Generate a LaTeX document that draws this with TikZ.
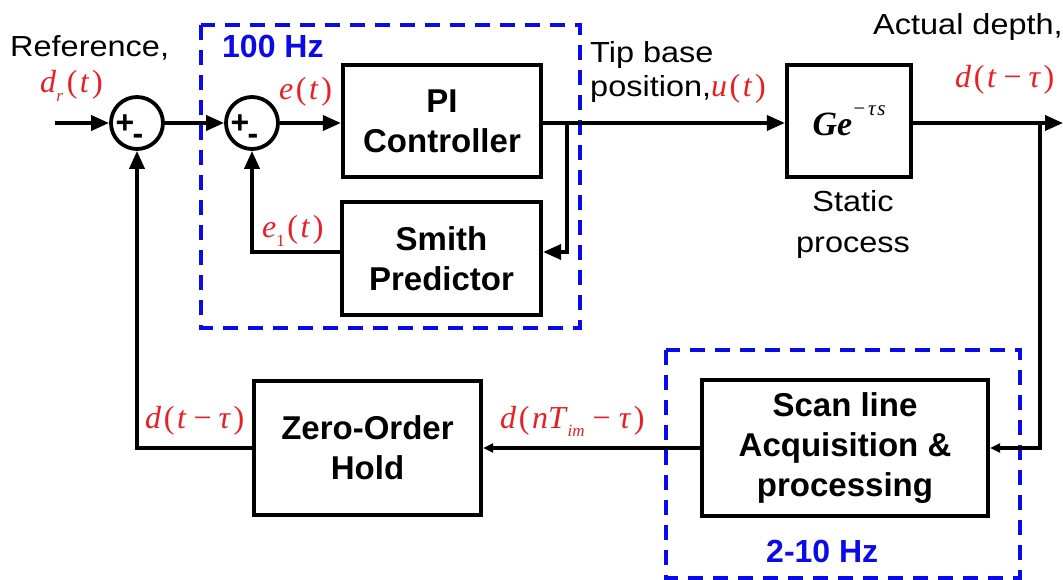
\documentclass[tikz,border=0pt]{standalone}
\usepackage{fontspec}
\setmainfont{Liberation Sans}
\newfontfamily\lblfont{Liberation Sans}[FakeStretch=1.12]
\newfontfamily\tmfont{Liberation Serif}
\usetikzlibrary{arrows.meta}
\definecolor{myred}{RGB}{235,30,35}
\definecolor{myblue}{RGB}{10,10,235}
\newcommand{\rsub}[1]{\raisebox{-0.28em}{\fontsize{17}{17}\selectfont #1}}
\newcommand{\ms}{\kern0.08em}
\tikzset{
  blk/.style={draw, line width=4.2pt, inner sep=0pt, align=center, font=\bfseries\fontsize{33}{40}\selectfont},
  sumj/.style={draw, circle, line width=3.8pt, minimum size=52pt, inner sep=0pt},
  conn/.style={line width=3.6pt, -{Triangle[length=18pt,width=15pt]}},
  connsm/.style={line width=3.6pt, -{Triangle[length=10pt,width=9pt]}},
  redm/.style={font=\tmfont\fontsize{32}{36}\selectfont, text=myred, inner sep=0pt, anchor=base west},
  lbl/.style={font=\lblfont\fontsize{29}{34}\selectfont, inner sep=0pt},
  hz/.style={font=\bfseries\fontsize{32}{36}\selectfont, text=myblue, inner sep=0pt, anchor=base west},
  dbox/.style={draw=myblue, line width=3.8pt, dash pattern=on 15pt off 10pt},
  pm/.style={font=\bfseries\fontsize{32}{32}\selectfont, inner sep=0pt}
}
\begin{document}
\begin{tikzpicture}[x=1pt,y=-1pt]
\fill[white] (0,0) rectangle (1063,580);
\useasboundingbox (0,0) rectangle (1063,580);

% dashed regions
\draw[dbox] (201,25) rectangle (580,328);
\draw[dbox] (666,350) rectangle (1020,578);
\node[hz] (hz100) at (222,58) {100 Hz};
\node[hz] (hz210) at (766,562) {2-10 Hz};

% summing junctions
\node[sumj] (sum1) at (137,123) {};
\node[sumj] (sum2) at (252,123) {};
\node[pm] (p1) at (125,124) {+};
\node[pm] (m1) at (138,139) {-};
\node[pm] (p2) at (240,124) {+};
\node[pm] (m2) at (253,139) {-};

% blocks
\node[blk, minimum width=198pt, minimum height=112pt] (pi) at (442,121) {PI\\Controller};
\node[blk, minimum width=199pt, minimum height=113pt] (smith) at (441.5,258.5) {Smith\\Predictor};
\node[blk, minimum width=124pt, minimum height=112pt] (ge) at (849,121)
  {{\tmfont\bfseries\itshape\fontsize{34}{34}\selectfont Ge}\raisebox{0.6em}{\tmfont\mdseries\itshape\fontsize{21}{21}\selectfont −\kern0.08em τ\kern0.08em s}};
\node[blk, minimum width=286pt, minimum height=136pt] (scan) at (845,448) {Scan line\\Acquisition \&\\processing};
\node[blk, minimum width=227pt, minimum height=134pt] (zoh) at (367.5,448) {Zero-Order\\Hold};

% coordinates
\coordinate (in) at (55,123);
\coordinate (b1) at (567,123);
\coordinate (b1d) at (567,252);
\coordinate (b2) at (1040,123);
\coordinate (out) at (1063,123);

% connectors
\draw[conn] (in) -- (sum1);
\draw[conn] (sum1) -- (sum2);
\draw[conn] (sum2) -- (sum2 -| pi.west);
\draw[conn] (pi.east |- sum2) -- (ge.west |- sum2);
\draw[conn] (b1) -- (b1d) -- (b1d -| smith.east);
\draw[conn] (smith.west |- b1d) -| (sum2.south);
\draw[conn] (ge.east |- sum2) -- (out);
\draw[connsm] (b2) |- (scan.east);
\draw[connsm] (scan.west) -- (zoh.east);
\draw[conn] (zoh.west) -| (sum1.south);

% black labels
\node[lbl, anchor=base west] (ref) at (10,57) {Reference,};
\node[lbl, anchor=base west] (tip1) at (590,63) {Tip base};
\node[lbl, anchor=base west] (tip2) at (590,97) {position,{\tmfont\fontsize{32}{36}\selectfont\color{myred}\textit{u}\ms(\ms\textit{t}\ms)}};
\node[lbl, anchor=base west] (act) at (873,35) {Actual depth,};
\node[lbl, anchor=base] (st1) at (853,212) {Static};
\node[lbl, anchor=base] (st2) at (853,252) {process};

% red math labels
\node[redm] (dr) at (40,93) {\textit{d}\rsub{\textit{r}}\kern0.12em(\ms\textit{t}\ms)};
\node[redm] (et) at (279,100) {\textit{e}\ms(\ms\textit{t}\ms)};
\node[redm] (e1) at (262,238) {\textit{e}\rsub{1}\ms(\ms\textit{t}\ms)};
\node[redm] (dout) at (955,88) {\textit{d}\ms(\ms\textit{t}\kern0.22em−\kern0.22em\textit{τ}\ms)};
\node[redm] (dfb) at (145,428) {\textit{d}\ms(\ms\textit{t}\kern0.22em−\kern0.22em\textit{τ}\ms)};
\node[redm] (dn) at (500,428) {\textit{d}\ms(\ms\textit{n}\textit{T}\rsub{\textit{im}}\kern0.25em−\kern0.25em\textit{τ}\ms)};
\end{tikzpicture}
\end{document}
